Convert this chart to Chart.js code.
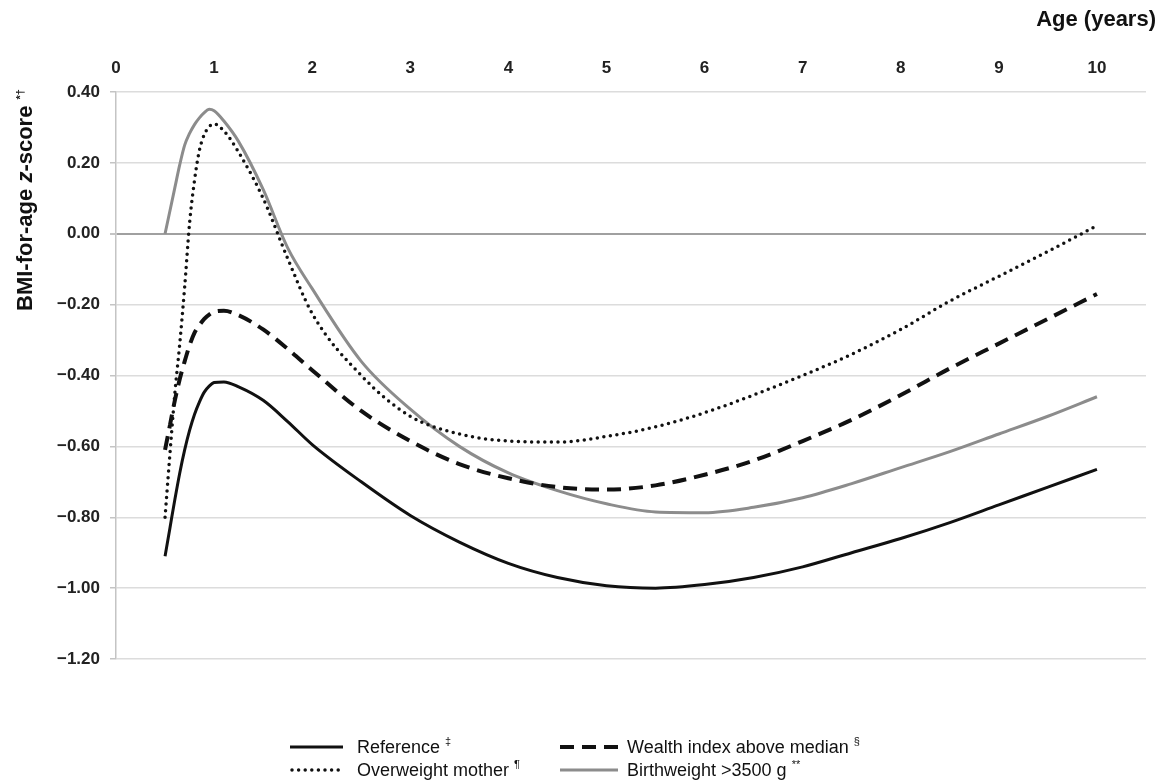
<!DOCTYPE html>
<html>
<head>
<meta charset="utf-8">
<script src="https://cdn.jsdelivr.net/npm/chart.js@4"></script>
<style>
  body { margin: 0; background: #fff; font-family: "Liberation Sans", Arial, sans-serif; color: #111; }
  #wrap { position: relative; width: 1161px; height: 781px; }
  #x-title { position: absolute; right: 5px; top: 8px; font-size: 22px; line-height: 22px; font-weight: bold; }
  #y-title { position: absolute; left: -125px; top: 189px; width: 300px; height: 22px; line-height: 22px;
             font-size: 22px; font-weight: bold; text-align: center; transform: rotate(-90deg); white-space: nowrap; }
  #y-title sup, .legend-item sup { font-size: 11px; vertical-align: 8px; line-height: 0; }
  .legend-item { position: absolute; height: 22px; line-height: 22px; font-size: 18px; white-space: nowrap; }
  .legend-item svg { position: absolute; left: 0; top: 0; }
  .legend-item span { position: absolute; top: 0; }
</style>
</head>
<body>
<div id="wrap">
  <canvas id="chart"></canvas>
  <div id="x-title">Age (years)</div>
  <div id="y-title">BMI-for-age <i>z</i>-score <sup>*†</sup></div>
  <div id="legend"></div>
</div>
<script>
var X_TICKS = [0, 1, 2, 3, 4, 5, 6, 7, 8, 9, 10];

var AGES = [0.5, 0.55, 0.6, 0.65, 0.7, 0.75, 0.8, 0.85, 0.9, 0.95, 1.0, 1.1, 1.25, 1.5, 1.75,
            2, 2.5, 3, 3.5, 4, 4.5, 5, 5.5, 6, 6.5, 7, 7.5, 8, 8.5, 9, 9.5, 10];

var REFERENCE = [-0.91, -0.83, -0.75, -0.675, -0.61, -0.555, -0.51, -0.475, -0.447, -0.43, -0.42, -0.418,
                 -0.432, -0.47, -0.53, -0.595, -0.70, -0.795, -0.87, -0.93, -0.97, -0.993, -1.0, -0.99,
                 -0.97, -0.94, -0.90, -0.86, -0.815, -0.765, -0.715, -0.665];

var WEALTH = [-0.61, -0.54, -0.47, -0.41, -0.36, -0.315, -0.28, -0.258, -0.24, -0.228, -0.22, -0.217,
              -0.23, -0.27, -0.325, -0.385, -0.50, -0.585, -0.65, -0.69, -0.715, -0.722, -0.71, -0.68,
              -0.64, -0.585, -0.525, -0.455, -0.38, -0.31, -0.24, -0.17];

var OVERWEIGHT = [-0.80, -0.62, -0.45, -0.31, -0.15, 0.03, 0.15, 0.235, 0.28, 0.302, 0.31, 0.29,
                  0.23, 0.10, -0.07, -0.225, -0.40, -0.515, -0.565, -0.585, -0.588, -0.572, -0.545, -0.505,
                  -0.455, -0.40, -0.34, -0.27, -0.19, -0.12, -0.05, 0.023];

var BIRTHWEIGHT = [0.0, 0.065, 0.13, 0.195, 0.25, 0.283, 0.308, 0.327, 0.342, 0.351, 0.347, 0.318,
                   0.26, 0.125, -0.04, -0.155, -0.36, -0.495, -0.60, -0.675, -0.725, -0.762, -0.785, -0.787,
                   -0.772, -0.745, -0.705, -0.66, -0.615, -0.565, -0.515, -0.46];

function points(values) {
  return values.map(function(v, i) { return { x: AGES[i], y: v }; });
}

// legend slot: column x of sample, text x, line y
var SERIES = [
  { label: 'Reference', mark: '‡', data: REFERENCE, color: '#111', width: 3, dash: [], cap: 'butt',
    lx: 290, lw: 53, tx: 357, ly: 747 },
  { label: 'Wealth index above median', mark: '§', data: WEALTH, color: '#111', width: 4, dash: [14, 8], cap: 'butt',
    lx: 560, lw: 58, tx: 627, ly: 747 },
  { label: 'Overweight mother', mark: '¶', data: OVERWEIGHT, color: '#111', width: 3.5, dash: [0, 6.6], cap: 'round',
    lx: 290, lw: 53, tx: 357, ly: 770 },
  { label: 'Birthweight >3500 g', mark: '**', data: BIRTHWEIGHT, color: '#8c8c8c', width: 3, dash: [], cap: 'butt',
    lx: 560, lw: 58, tx: 627, ly: 770 }
];

function buildLegend() {
  var box = document.getElementById('legend');
  SERIES.forEach(function(s) {
    var item = document.createElement('div');
    item.className = 'legend-item';
    item.style.left = s.lx + 'px';
    item.style.top = (s.ly - 11) + 'px';
    var dash = s.dash.length ? ' stroke-dasharray="' + s.dash.join(' ') + '"' : '';
    item.innerHTML =
      '<svg width="' + s.lw + '" height="22"><line x1="' + (s.cap === 'round' ? 2 : 0) + '" y1="11" x2="' + s.lw +
      '" y2="11" stroke="' + s.color + '" stroke-width="' + s.width + '" stroke-linecap="' + s.cap + '"' + dash + '/></svg>' +
      '<span style="left:' + (s.tx - s.lx) + 'px">' + s.label + ' <sup>' + s.mark + '</sup></span>';
    box.appendChild(item);
  });
}

function fmt(v) {
  var s = Math.abs(v).toFixed(2);
  return v < -0.001 ? '\u2212' + s : s;
}

var canvas = document.getElementById('chart');

new Chart(canvas, {
  type: 'line',
  data: {
    datasets: SERIES.map(function(s) {
      return {
        label: s.label,
        data: points(s.data),
        borderColor: s.color,
        borderWidth: s.width,
        borderDash: s.dash,
        borderCapStyle: s.cap,
        pointRadius: 0,
        fill: false,
        cubicInterpolationMode: 'monotone'
      };
    })
  },
  options: {
    responsive: true,
    maintainAspectRatio: false,
    animation: false,
    layout: { padding: { top: 0, left: 0, right: 15, bottom: 122 } },
    plugins: { legend: { display: false }, tooltip: { enabled: false } },
    scales: {
      x: {
        type: 'linear',
        position: 'top',
        min: 0,
        max: 10.5,
        afterFit: function(scale) { scale.height = 92; },
        afterBuildTicks: function(scale) {
          scale.ticks = X_TICKS.map(function(v) { return { value: v }; });
        },
        grid: { display: false, drawTicks: false },
        border: { display: false },
        ticks: {
          padding: 13,
          color: '#222',
          font: { family: 'Liberation Sans', size: 17, weight: 'bold' }
        }
      },
      y: {
        min: -1.2,
        max: 0.4,
        afterFit: function(scale) { scale.width = 116; },
        grid: {
          color: function(ctx) { return ctx.tick && Math.abs(ctx.tick.value) < 1e-9 ? '#a0a0a0' : '#dcdcdc'; },
          lineWidth: function(ctx) { return ctx.tick && Math.abs(ctx.tick.value) < 1e-9 ? 2 : 1.5; },
          tickColor: '#c4c4c4',
          tickLength: 6
        },
        border: { color: '#c4c4c4', width: 1.5 },
        ticks: {
          stepSize: 0.2,
          padding: 10,
          color: '#222',
          font: { family: 'Liberation Sans', size: 17, weight: 'bold' },
          callback: function(v) { return fmt(v); }
        }
      }
    }
  }
});

buildLegend();
</script>
</body>
</html>
